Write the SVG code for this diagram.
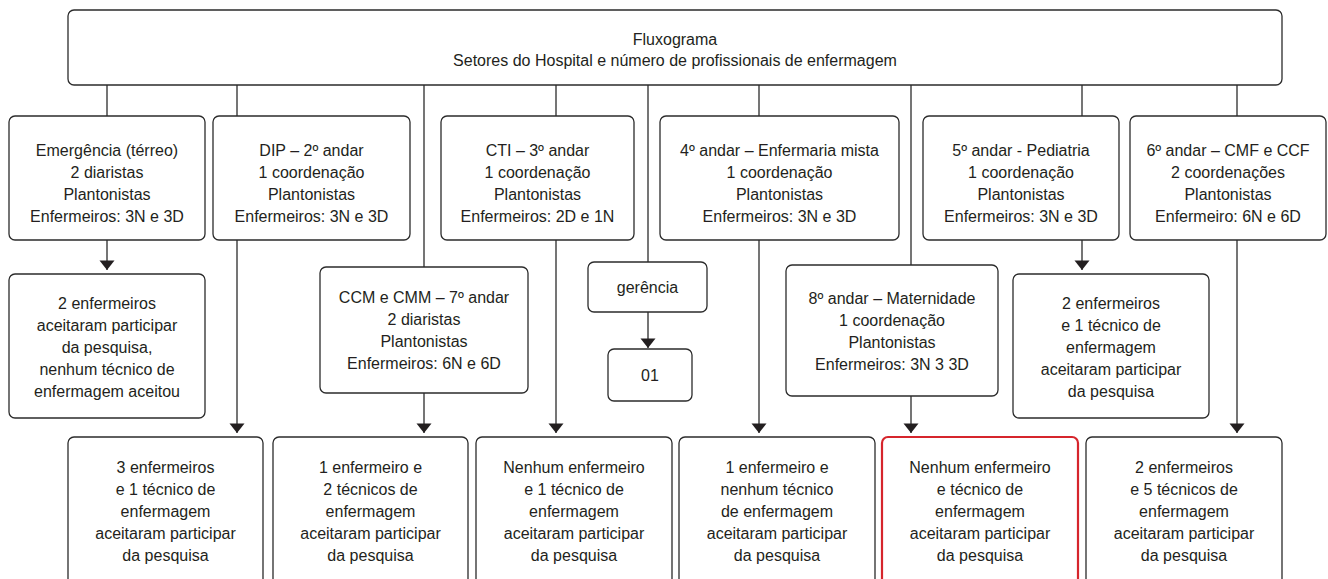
<svg xmlns="http://www.w3.org/2000/svg" width="1328" height="579" viewBox="0 0 1328 579">
<style>
.box{fill:#fff;stroke:#2b2b2b;stroke-width:1.3}
.red{fill:#fff;stroke:#d6252c;stroke-width:2.2}
text{font-family:"Liberation Sans",Arial,sans-serif;font-size:16px;fill:#231f20;text-anchor:middle}
.c line{stroke:#2b2b2b;stroke-width:1.3}
</style>
<defs>
<marker id="ah" markerUnits="userSpaceOnUse" markerWidth="11" markerHeight="16" refX="10" refY="8" orient="auto" viewBox="0 0 11 16">
<path d="M0.5,0.5 L10,8 L0.5,15.5 Z" fill="#231f20"/>
</marker>
</defs>
<rect width="1328" height="579" fill="#fff"/>
<g class="c" id="connectors">
<line x1="107" y1="85" x2="107" y2="116"/>
<line x1="237" y1="85" x2="237" y2="116"/>
<line x1="424" y1="85" x2="424" y2="267"/>
<line x1="556" y1="85" x2="556" y2="116"/>
<line x1="648" y1="85" x2="648" y2="262"/>
<line x1="759" y1="85" x2="759" y2="116"/>
<line x1="911" y1="85" x2="911" y2="265"/>
<line x1="1082" y1="85" x2="1082" y2="116"/>
<line x1="1237" y1="85" x2="1237" y2="116"/>
<line x1="107" y1="240" x2="107" y2="270" marker-end="url(#ah)"/>
<line x1="237" y1="240" x2="237" y2="433" marker-end="url(#ah)"/>
<line x1="424" y1="393" x2="424" y2="433" marker-end="url(#ah)"/>
<line x1="556" y1="240" x2="556" y2="433" marker-end="url(#ah)"/>
<line x1="648" y1="312" x2="648" y2="348" marker-end="url(#ah)"/>
<line x1="759" y1="240" x2="759" y2="433" marker-end="url(#ah)"/>
<line x1="911" y1="396" x2="911" y2="433" marker-end="url(#ah)"/>
<line x1="1082" y1="240" x2="1082" y2="270" marker-end="url(#ah)"/>
<line x1="1237" y1="240" x2="1237" y2="433" marker-end="url(#ah)"/>
</g>
<g id="top">
<rect class="box" x="68" y="10" width="1214" height="75" rx="6"/>
<text x="675" y="45">Fluxograma</text>
<text x="675" y="66">Setores do Hospital e número de profissionais de enfermagem</text>
</g>
<g id="emergencia">
<rect class="box" x="9" y="116" width="196" height="124" rx="6"/>
<text x="107" y="156">Emergência (térreo)</text>
<text x="107" y="178">2 diaristas</text>
<text x="107" y="200">Plantonistas</text>
<text x="107" y="222">Enfermeiros: 3N e 3D</text>
</g>
<g id="dip">
<rect class="box" x="213" y="116" width="197" height="124" rx="6"/>
<text x="311.5" y="156">DIP – 2º andar</text>
<text x="311.5" y="178">1 coordenação</text>
<text x="311.5" y="200">Plantonistas</text>
<text x="311.5" y="222">Enfermeiros: 3N e 3D</text>
</g>
<g id="cti">
<rect class="box" x="441" y="116" width="193" height="124" rx="6"/>
<text x="537.5" y="156">CTI – 3º andar</text>
<text x="537.5" y="178">1 coordenação</text>
<text x="537.5" y="200">Plantonistas</text>
<text x="537.5" y="222">Enfermeiros: 2D e 1N</text>
</g>
<g id="andar4">
<rect class="box" x="660" y="116" width="239" height="124" rx="6"/>
<text x="779.5" y="156">4º andar – Enfermaria mista</text>
<text x="779.5" y="178">1 coordenação</text>
<text x="779.5" y="200">Plantonistas</text>
<text x="779.5" y="222">Enfermeiros: 3N e 3D</text>
</g>
<g id="andar5">
<rect class="box" x="923" y="116" width="196" height="124" rx="6"/>
<text x="1021" y="156">5º andar - Pediatria</text>
<text x="1021" y="178">1 coordenação</text>
<text x="1021" y="200">Plantonistas</text>
<text x="1021" y="222">Enfermeiros: 3N e 3D</text>
</g>
<g id="andar6">
<rect class="box" x="1130" y="116" width="196" height="124" rx="6"/>
<text x="1228" y="156">6º andar – CMF e CCF</text>
<text x="1228" y="178">2 coordenações</text>
<text x="1228" y="200">Plantonistas</text>
<text x="1228" y="222">Enfermeiro: 6N e 6D</text>
</g>
<g id="res-emergencia">
<rect class="box" x="9" y="274" width="196" height="144" rx="6"/>
<text x="107" y="309">2 enfermeiros</text>
<text x="107" y="331">aceitaram participar</text>
<text x="107" y="353">da pesquisa,</text>
<text x="107" y="375">nenhum técnico de</text>
<text x="107" y="397">enfermagem aceitou</text>
</g>
<g id="ccm">
<rect class="box" x="320" y="267" width="208" height="126" rx="6"/>
<text x="424" y="303">CCM e CMM – 7º andar</text>
<text x="424" y="325">2 diaristas</text>
<text x="424" y="347">Plantonistas</text>
<text x="424" y="369">Enfermeiros: 6N e 6D</text>
</g>
<g id="gerencia">
<rect class="box" x="588" y="262" width="119" height="50" rx="6"/>
<text x="647.5" y="293">gerência</text>
</g>
<g id="g01">
<rect class="box" x="608" y="349" width="84" height="52" rx="6"/>
<text x="650" y="381">01</text>
</g>
<g id="andar8">
<rect class="box" x="786" y="265" width="212" height="131" rx="6"/>
<text x="892" y="304">8º andar – Maternidade</text>
<text x="892" y="326">1 coordenação</text>
<text x="892" y="348">Plantonistas</text>
<text x="892" y="370">Enfermeiros: 3N 3 3D</text>
</g>
<g id="res-andar5">
<rect class="box" x="1013" y="274" width="196" height="144" rx="6"/>
<text x="1111" y="309">2 enfermeiros</text>
<text x="1111" y="331">e 1 técnico de</text>
<text x="1111" y="353">enfermagem</text>
<text x="1111" y="375">aceitaram participar</text>
<text x="1111" y="397">da pesquisa</text>
</g>
<g id="res-dip">
<rect class="box" x="68" y="437" width="195" height="160" rx="6"/>
<text x="165.5" y="473">3 enfermeiros</text>
<text x="165.5" y="495">e 1 técnico de</text>
<text x="165.5" y="517">enfermagem</text>
<text x="165.5" y="539">aceitaram participar</text>
<text x="165.5" y="561">da pesquisa</text>
</g>
<g id="res-ccm">
<rect class="box" x="273" y="437" width="195" height="160" rx="6"/>
<text x="370.5" y="473">1 enfermeiro e</text>
<text x="370.5" y="495">2 técnicos de</text>
<text x="370.5" y="517">enfermagem</text>
<text x="370.5" y="539">aceitaram participar</text>
<text x="370.5" y="561">da pesquisa</text>
</g>
<g id="res-cti">
<rect class="box" x="476" y="437" width="196" height="160" rx="6"/>
<text x="574" y="473">Nenhum enfermeiro</text>
<text x="574" y="495">e 1 técnico de</text>
<text x="574" y="517">enfermagem</text>
<text x="574" y="539">aceitaram participar</text>
<text x="574" y="561">da pesquisa</text>
</g>
<g id="res-andar4">
<rect class="box" x="679" y="437" width="196" height="160" rx="6"/>
<text x="777" y="473">1 enfermeiro e</text>
<text x="777" y="495">nenhum técnico</text>
<text x="777" y="517">de enfermagem</text>
<text x="777" y="539">aceitaram participar</text>
<text x="777" y="561">da pesquisa</text>
</g>
<g id="res-andar8">
<rect class="red" x="882" y="437" width="196" height="160" rx="6"/>
<text x="980" y="473">Nenhum enfermeiro</text>
<text x="980" y="495">e técnico de</text>
<text x="980" y="517">enfermagem</text>
<text x="980" y="539">aceitaram participar</text>
<text x="980" y="561">da pesquisa</text>
</g>
<g id="res-andar6">
<rect class="box" x="1086" y="437" width="196" height="160" rx="6"/>
<text x="1184" y="473">2 enfermeiros</text>
<text x="1184" y="495">e 5 técnicos de</text>
<text x="1184" y="517">enfermagem</text>
<text x="1184" y="539">aceitaram participar</text>
<text x="1184" y="561">da pesquisa</text>
</g>
</svg>
